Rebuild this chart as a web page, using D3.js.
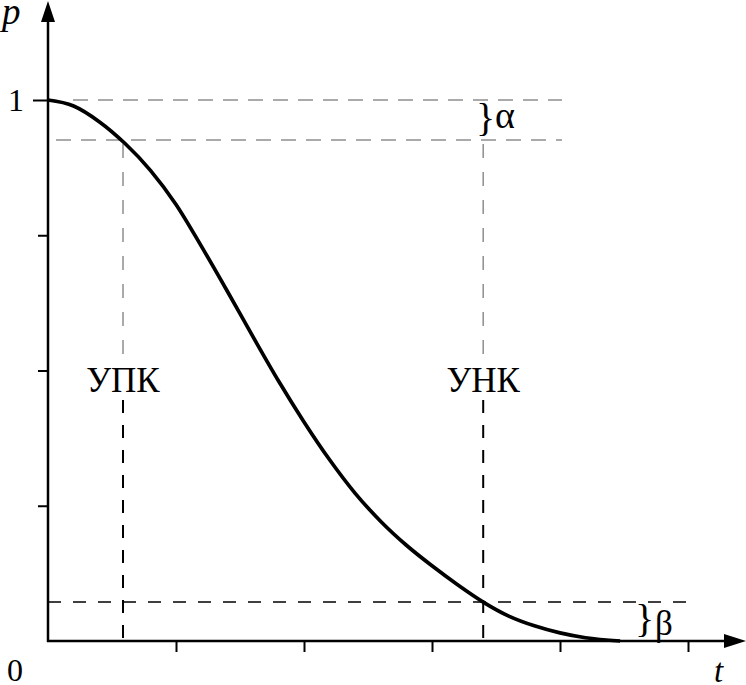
<!DOCTYPE html>
<html>
<head>
<meta charset="utf-8">
<script src="https://cdn.jsdelivr.net/npm/d3@7"></script>
<style>
  html, body { margin: 0; padding: 0; background: #fff; }
  svg { display: block; font-family: "Liberation Serif", "DejaVu Serif", serif; }
</style>
</head>
<body>
<div id="app"></div>
<script>
// operating characteristic curve, p(t)
const curveT = [0, 0.2, 0.4, 0.6, 0.8, 1.0, 1.2, 1.4, 1.6, 1.8, 2.0, 2.2, 2.4, 2.6, 2.8, 3.0, 3.2, 3.4, 3.6, 3.8, 4.0, 4.2, 4.47];
const curveP = [1.0, 0.989, 0.960, 0.920, 0.870, 0.807, 0.729, 0.647, 0.563, 0.481, 0.405, 0.335, 0.273, 0.221, 0.177, 0.139, 0.104, 0.072, 0.046, 0.028, 0.015, 0.006, 0.0];

const xTicks = [1, 2, 3, 4, 5];
const yTicks = [0.25, 0.5, 0.75, 1];

const alphaLevel = 0.926;   // 1 - alpha
const betaLevel = 0.072;
const marks = [
  { name: "УПК", t: 0.586 },
  { name: "УНК", t: 3.40 }
];

const width = 746, height = 685;

const x = d3.scaleLinear().domain([0, 5]).range([48, 688]);
const y = d3.scaleLinear().domain([0, 1]).range([641, 100]);

const svg = d3.select("#app").append("svg")
  .attr("width", width)
  .attr("height", height);

// axes (ticks only, lines drawn separately with arrows)
const gx = svg.append("g")
  .attr("transform", `translate(0,${y(0)})`)
  .call(d3.axisBottom(x).tickValues(xTicks).tickSize(11).tickFormat(""));
gx.select(".domain").remove();
gx.selectAll(".tick line").attr("stroke", "#000").attr("stroke-width", 2);

const gy = svg.append("g")
  .attr("transform", `translate(${x(0)},0)`)
  .call(d3.axisLeft(y).tickValues(yTicks).tickSize(10).tickFormat(""));
gy.select(".domain").remove();
gy.selectAll(".tick line").attr("stroke", "#000").attr("stroke-width", 2)
  .attr("x2", d => d === 1 ? -15 : -10);

// gray dashed reference lines
const gray = "#8f8f8f";
svg.append("line")
  .attr("x1", 73).attr("x2", 562)
  .attr("y1", y(1)).attr("y2", y(1))
  .attr("stroke", gray).attr("stroke-width", 1.5).attr("stroke-dasharray", "15,10");
svg.append("line")
  .attr("x1", 56).attr("x2", 562)
  .attr("y1", y(alphaLevel)).attr("y2", y(alphaLevel))
  .attr("stroke", gray).attr("stroke-width", 1.5).attr("stroke-dasharray", "15,10");

// beta level (black dashed)
svg.append("line")
  .attr("x1", x(0)).attr("x2", 686)
  .attr("y1", y(betaLevel)).attr("y2", y(betaLevel))
  .attr("stroke", "#000").attr("stroke-width", 1.5).attr("stroke-dasharray", "13,12");

// vertical markers: gray above label, black below
marks.forEach(m => {
  const mx = x(m.t);
  svg.append("line")
    .attr("x1", mx).attr("x2", mx)
    .attr("y1", y(alphaLevel) + 4).attr("y2", 358)
    .attr("stroke", gray).attr("stroke-width", 1.5).attr("stroke-dasharray", "14,14");
  svg.append("line")
    .attr("x1", mx).attr("x2", mx)
    .attr("y1", 400).attr("y2", y(0))
    .attr("stroke", "#000").attr("stroke-width", 2).attr("stroke-dasharray", "13,12");
  svg.append("text")
    .attr("x", mx).attr("y", 392)
    .attr("text-anchor", "middle")
    .attr("font-size", 35)
    .text(m.name);
});

// axis lines with arrows
svg.append("line")
  .attr("x1", x(0)).attr("x2", x(0))
  .attr("y1", y(0) + 1).attr("y2", 18)
  .attr("stroke", "#000").attr("stroke-width", 2.5);
svg.append("path")
  .attr("d", `M${x(0)},1 L${x(0) - 7},22 L${x(0) + 7},22 Z`)
  .attr("fill", "#000");
svg.append("line")
  .attr("x1", x(0) - 1).attr("x2", 728)
  .attr("y1", y(0)).attr("y2", y(0))
  .attr("stroke", "#000").attr("stroke-width", 2.5);
svg.append("path")
  .attr("d", `M746,${y(0)} L724,${y(0) - 7} L724,${y(0) + 7} Z`)
  .attr("fill", "#000");

// curve
const pts = curveT.map((t, i) => [t, curveP[i]]);
svg.append("path")
  .datum(pts)
  .attr("fill", "none")
  .attr("stroke", "#000")
  .attr("stroke-width", 3.7)
  .attr("d", d3.line().x(d => x(d[0])).y(d => y(d[1])).curve(d3.curveMonotoneX));

// texts
svg.append("text").attr("x", 2).attr("y", 24)
  .attr("font-size", 37).attr("font-style", "italic").text("p");
svg.append("text").attr("x", 8).attr("y", 111)
  .attr("font-size", 32).text("1");
svg.append("text").attr("x", 7).attr("y", 681)
  .attr("font-size", 32).text("0");
svg.append("text").attr("x", 714).attr("y", 682)
  .attr("font-size", 33).attr("font-style", "italic").text("t");

// braces with alpha / beta
svg.append("text").attr("x", 476).attr("y", 131)
  .attr("font-size", 40).text("}");
svg.append("text").attr("x", 495).attr("y", 128)
  .attr("font-size", 38).text("α");
svg.append("text").attr("x", 635).attr("y", 632)
  .attr("font-size", 40).text("}");
svg.append("text").attr("x", 655).attr("y", 635)
  .attr("font-size", 35).text("β");
</script>
</body>
</html>
